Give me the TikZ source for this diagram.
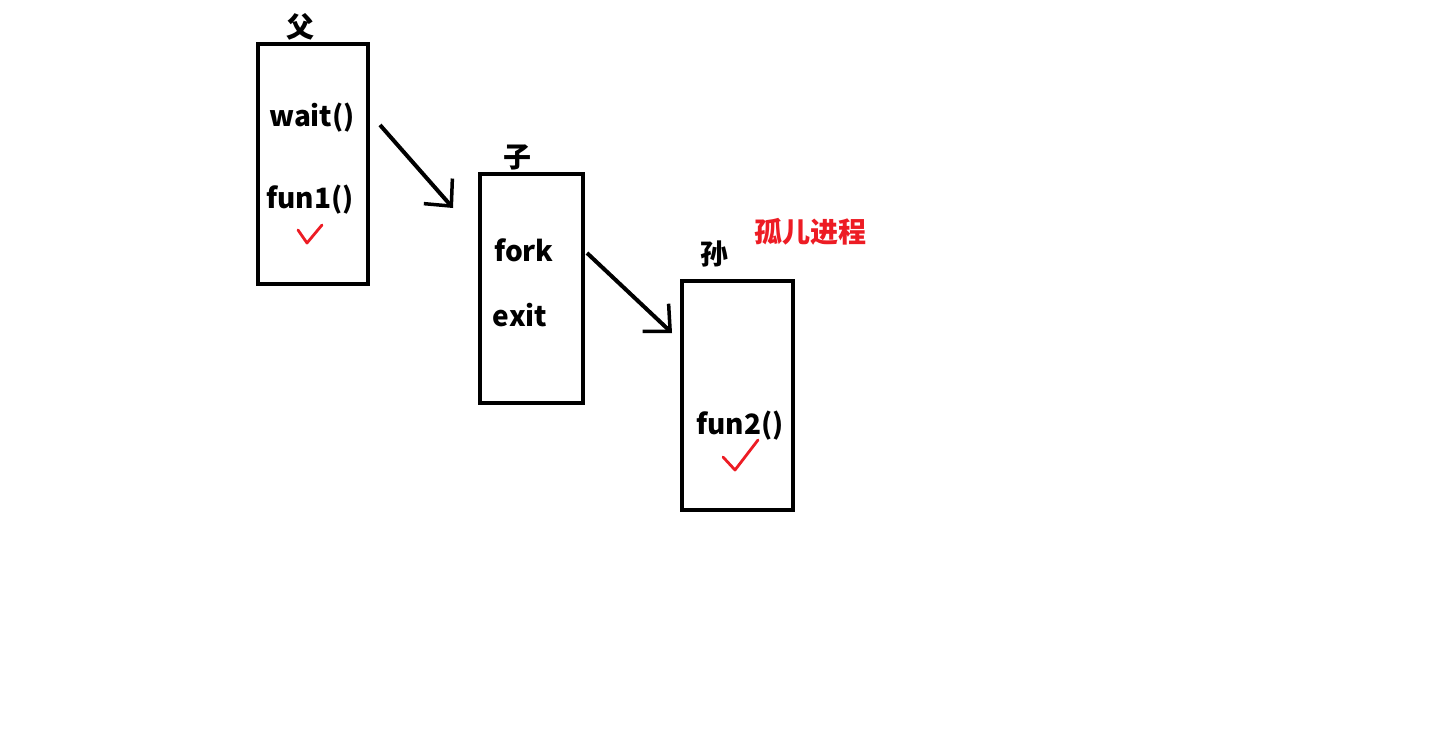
\documentclass[tikz,border=0pt]{standalone}
\usepackage{fontspec}
\setmainfont{Noto Sans CJK SC}
\usetikzlibrary{arrows.meta}
\definecolor{inkred}{HTML}{ED1C24}

\tikzset{
  procbox/.style={draw=black, line width=4pt, minimum width=#1, inner sep=0pt},
  codetxt/.style={font=\fontsize{28}{30}\selectfont\bfseries, inner sep=0pt},
  nametxt/.style={font=\fontsize{28}{30}\selectfont\bfseries, inner sep=0pt},
  penarrow/.style={line width=4pt, -{Straight Barb[length=20pt, width=38pt, line width=3.5pt]}},
  tick/.style={draw=inkred, line width=2.8pt, line join=round, line cap=round}
}

\begin{document}
\begin{tikzpicture}[x=1pt,y=-1pt]
        \useasboundingbox[fill=white] (0,0) rectangle (1434,736);
        % the three processes
        \node[procbox=110pt, minimum height=240pt] (fu) at (313,164) {};
        \node[procbox=103pt, minimum height=229pt] (zi) at (531.5,288.5) {};
        \node[procbox=111pt, minimum height=229pt] (sun) at (737.5,395.5) {};
        \node[nametxt] (fulbl) at (300,27) {父};
        \node[nametxt] (zilbl) at (517,157) {子};
        \node[nametxt] (sunlbl) at (714,254) {孙};
        \node[nametxt, text=inkred] (orphan) at (810,232) {孤儿进程};
        % what each one runs
        \node[codetxt] (wait) at (312,118) {wait()};
        \node[codetxt] (fun1) at (310,200) {fun1()};
        \node[codetxt] (fork) at (524,250) {fork};
        \node[codetxt] (exit) at (520,315) {exit};
        \node[codetxt] (fun2) at (740,426) {fun2()};
        % fork arrows
        \coordinate (fuout) at (380,125);
        \coordinate (ziin) at (453,208);
        \coordinate (ziout) at (587,253);
        \coordinate (sunin) at (672,333);
        \draw[penarrow] (fuout) -- (ziin);
        \draw[penarrow] (ziout) -- (sunin);
        % ticks
        \draw[tick] (298,230) -- (307,243) -- (322,225);
        \draw[tick] (723,457) -- (735,470) -- (758,440);
    \end{tikzpicture}
\end{document}
